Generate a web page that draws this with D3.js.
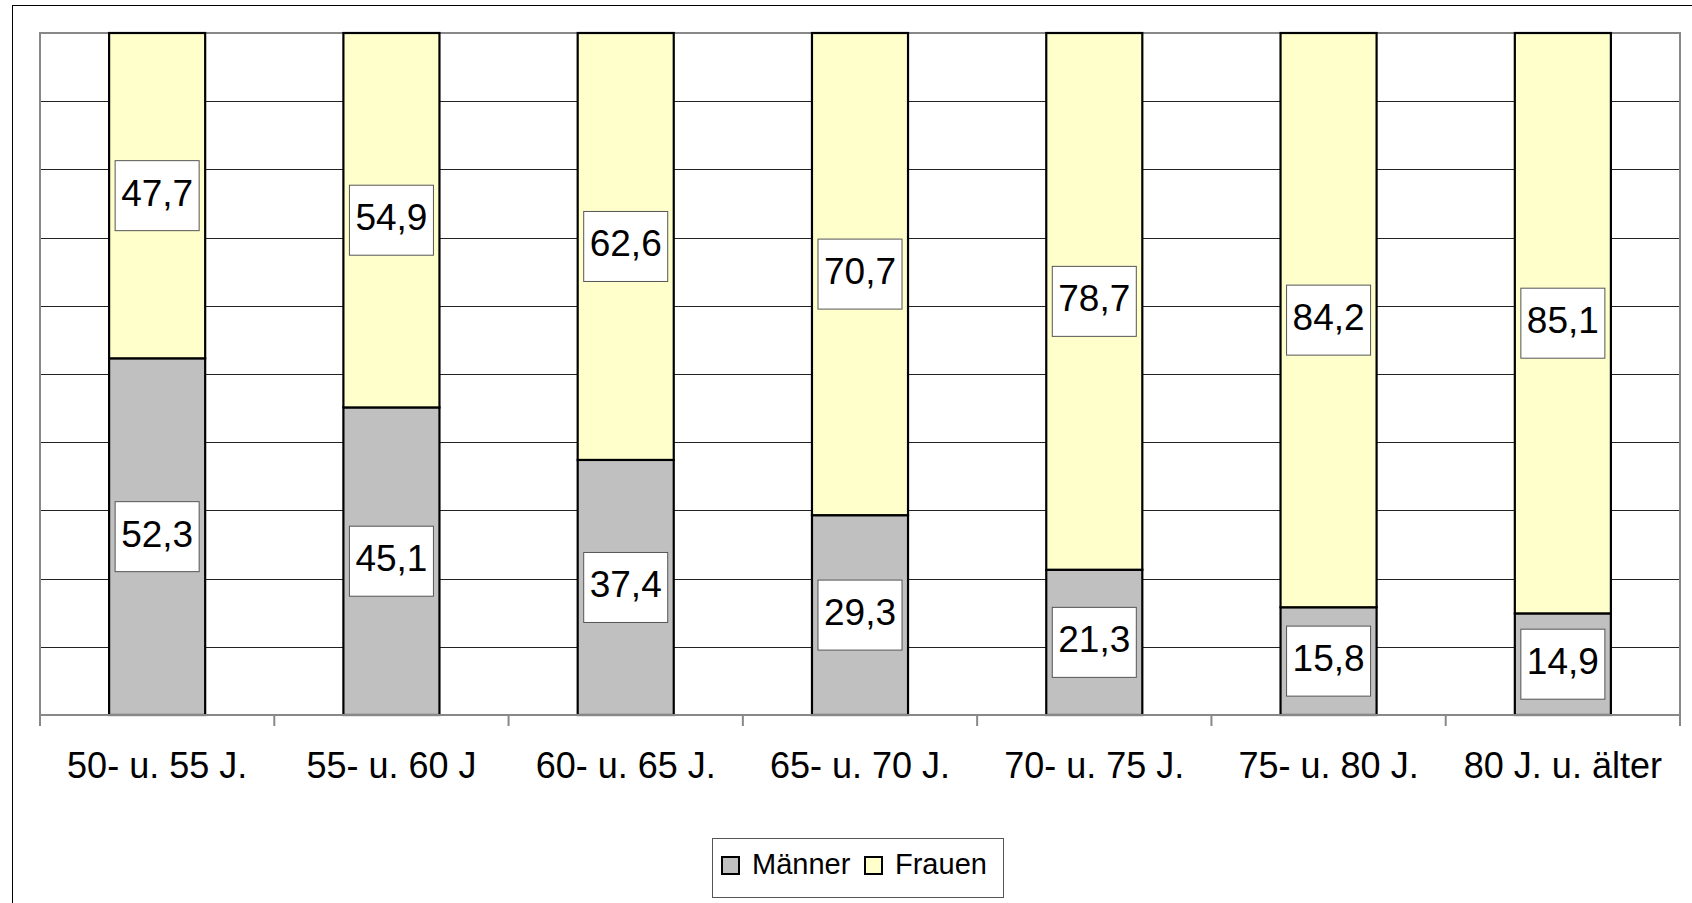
<!DOCTYPE html>
<html>
<head>
<meta charset="utf-8">
<script src="https://cdn.jsdelivr.net/npm/d3@7"></script>
<style>
  html, body { margin: 0; padding: 0; background: #fff; }
  svg { display: block; font-family: "Liberation Sans", Arial, sans-serif; }
</style>
</head>
<body>
<svg id="chart" width="1692" height="903"></svg>
<script>
'use strict';

const categories = ['50- u. 55 J.', '55- u. 60 J', '60- u. 65 J.', '65- u. 70 J.', '70- u. 75 J.', '75- u. 80 J.', '80 J. u. älter'];
const maenner = [52.3, 45.1, 37.4, 29.3, 21.3, 15.8, 14.9];
const frauen = [47.7, 54.9, 62.6, 70.7, 78.7, 84.2, 85.1];
const seriesNames = ['Männer', 'Frauen'];
const gridTicks = [10, 20, 30, 40, 50, 60, 70, 80, 90];

const colors = { 'Männer': '#c0c0c0', 'Frauen': '#ffffcc' };
const fmt = v => d3.format('.1f')(v).replace('.', ',');

const svg = d3.select('#chart');
const plot = { left: 40, top: 33, right: 1680, bottom: 715 };

// outer chart frame (runs off the page on the right and bottom)
svg.append('rect')
  .attr('x', 12.5).attr('y', 5.5)
  .attr('width', 1700).attr('height', 920)
  .attr('fill', '#fff').attr('stroke', '#000').attr('stroke-width', 1);

const x = d3.scaleBand().domain(categories).range([plot.left, plot.right]);
const y = d3.scaleLinear().domain([0, 100]).range([plot.bottom, plot.top]);
const barW = x.bandwidth() * 0.41;

// gridlines
svg.append('g')
  .selectAll('line')
  .data(gridTicks)
  .join('line')
  .attr('x1', plot.left).attr('x2', plot.right)
  .attr('y1', d => Math.round(y(d)) + 0.5).attr('y2', d => Math.round(y(d)) + 0.5)
  .attr('stroke', '#222').attr('stroke-width', 1);

// plot border (left, top, right)
svg.append('path')
  .attr('d', `M${plot.left},${plot.bottom}V${plot.top}H${plot.right}V${plot.bottom}`)
  .attr('fill', 'none').attr('stroke', '#888').attr('stroke-width', 2);

// stacked data
const rows = categories.map((c, i) => ({ cat: c, 'Männer': maenner[i], 'Frauen': frauen[i] }));
const stack = d3.stack().keys(seriesNames)(rows);

const layers = svg.append('g')
  .selectAll('g')
  .data(stack)
  .join('g')
  .attr('fill', d => colors[d.key]);

layers.selectAll('rect')
  .data(d => d)
  .join('rect')
  .attr('x', d => x(d.data.cat) + (x.bandwidth() - barW) / 2)
  .attr('y', d => y(d[1]))
  .attr('width', barW)
  .attr('height', d => y(d[0]) - y(d[1]))
  .attr('stroke', '#000').attr('stroke-width', 2.2);

// category axis with boundary ticks
svg.append('line')
  .attr('x1', plot.left).attr('x2', plot.right)
  .attr('y1', plot.bottom).attr('y2', plot.bottom)
  .attr('stroke', '#888').attr('stroke-width', 2);

const bounds = categories.map(c => x(c)).concat([plot.right]);
svg.append('g')
  .selectAll('line')
  .data(bounds)
  .join('line')
  .attr('x1', d => d).attr('x2', d => d)
  .attr('y1', plot.bottom).attr('y2', plot.bottom + 11)
  .attr('stroke', '#888').attr('stroke-width', 2);

const axis = svg.append('g')
  .attr('transform', `translate(0,${plot.bottom})`)
  .call(d3.axisBottom(x).tickSize(0).tickPadding(0));
axis.select('.domain').remove();
axis.selectAll('text')
  .attr('y', 63).attr('dy', null)
  .attr('font-size', 36).attr('fill', '#000')
  .attr('font-family', '"Liberation Sans", Arial, sans-serif');

// value labels in boxes
const labels = svg.append('g');
stack.forEach(layer => {
  layer.forEach(d => {
    const cx = x(d.data.cat) + x.bandwidth() / 2;
    const cy = (y(d[0]) + y(d[1])) / 2;
    const g = labels.append('g');
    const box = g.append('rect').attr('fill', '#fff').attr('stroke', '#555').attr('stroke-width', 1);
    const t = g.append('text')
      .attr('x', cx).attr('y', cy + 10)
      .attr('text-anchor', 'middle')
      .attr('font-size', 37).attr('fill', '#000')
      .text(fmt(d.data[layer.key]));
    const bb = t.node().getBBox();
    const bw = bb.width + 12;
    const bh = 70;
    box.attr('x', cx - bw / 2).attr('y', cy - bh / 2).attr('width', bw).attr('height', bh);
  });
});

// legend
const legend = svg.append('g');
legend.append('rect')
  .attr('x', 712.5).attr('y', 838.5).attr('width', 291).attr('height', 59)
  .attr('fill', '#fff').attr('stroke', '#555').attr('stroke-width', 1);

const legendItems = [
  { name: seriesNames[0], sx: 722, tx: 752 },
  { name: seriesNames[1], sx: 865, tx: 895 }
];
legend.selectAll('g')
  .data(legendItems)
  .join('g')
  .each(function (d) {
    const g = d3.select(this);
    g.append('rect')
      .attr('x', d.sx).attr('y', 857).attr('width', 17).attr('height', 17)
      .attr('fill', colors[d.name]).attr('stroke', '#000').attr('stroke-width', 2);
    g.append('text')
      .attr('x', d.tx).attr('y', 874)
      .attr('font-size', 29).attr('fill', '#000')
      .text(d.name);
  });
</script>
</body>
</html>
